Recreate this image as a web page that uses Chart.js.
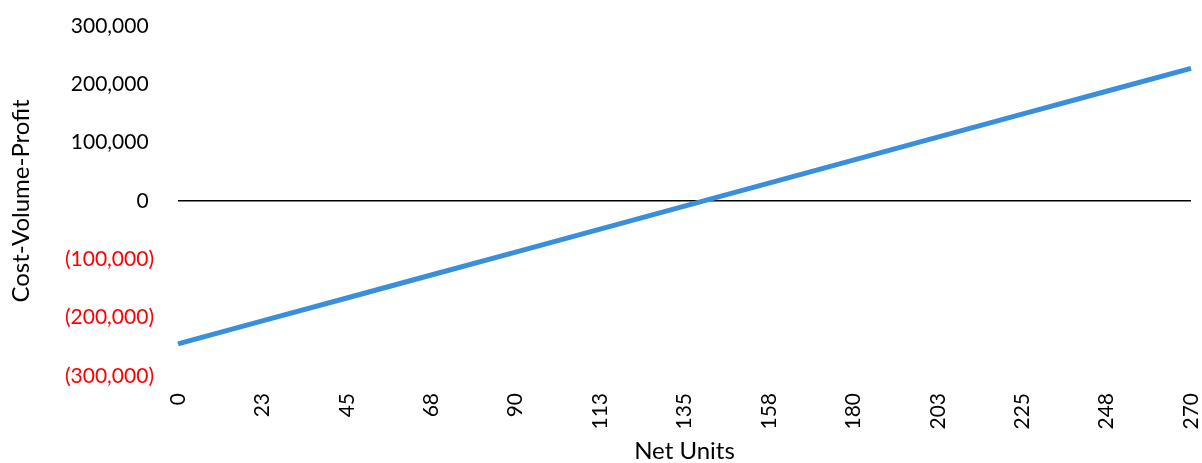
<!DOCTYPE html>
<html>
<head>
<meta charset="utf-8">
<title>Cost-Volume-Profit</title>
<script src="https://cdn.jsdelivr.net/npm/chart.js@4.4.1/dist/chart.umd.min.js"></script>
<style>
  html, body { margin: 0; padding: 0; background: #ffffff; }
  #wrap { width: 1202px; height: 463px; }
</style>
</head>
<body>
<div id="wrap"><canvas id="cvp" width="1202" height="463"></canvas></div>
<script>
// Units sold along the horizontal axis
const netUnits = ['0', '23', '45', '68', '90', '113', '135', '158', '180', '203', '225', '248', '270'];

// Profit (loss) at each volume
const profit = [-245000, -205600, -166300, -126900, -87500, -48100, -8800,
                30600, 70000, 109400, 148800, 188100, 227500];

// Vertical axis ticks
const profitTicks = [-300000, -200000, -100000, 0, 100000, 200000, 300000];

const FONT = 'Lato, "Open Sans", "Liberation Sans", sans-serif';

function fmtAccounting(v) {
  const s = Math.abs(v).toLocaleString('en-US');
  if (v < 0) return '(' + s + ')';
  return v === 0 ? '0 ' : s + ' ';
}

new Chart(document.getElementById('cvp'), {
  type: 'line',
  data: {
    labels: netUnits,
    datasets: [{
      label: 'Profit',
      data: profit,
      borderColor: '#3A8FDC',
      borderWidth: 5,
      pointRadius: 0,
      pointHoverRadius: 0,
      tension: 0,
      fill: false
    }]
  },
  options: {
    responsive: false,
    animation: false,
    layout: { padding: { top: 26, right: 11, bottom: 0, left: 0 } },
    plugins: { legend: { display: false }, tooltip: { enabled: false } },
    scales: {
      x: {
        type: 'category',
        offset: false,
        border: { display: false },
        grid: { display: false, drawTicks: false },
        ticks: {
          minRotation: 90,
          maxRotation: 90,
          autoSkip: false,
          padding: 17,
          color: '#000000',
          font: { family: FONT, size: 21 }
        },
        title: {
          display: true,
          text: 'Net Units',
          color: '#000000',
          padding: { top: 0, bottom: 0 },
          font: { family: FONT, size: 24, lineHeight: 1.0 }
        },
        afterFit(scale) {
          scale.height = 87;
          scale.paddingLeft = 0;
          scale.paddingRight = 0;
        }
      },
      y: {
        min: -300000,
        max: 300000,
        border: { display: false },
        afterBuildTicks(scale) { scale.ticks = profitTicks.map(v => ({ value: v })); },
        grid: {
          drawTicks: false,
          lineWidth: 1.6,
          color: ctx => (ctx.tick && ctx.tick.value === 0 ? '#000000' : 'rgba(0,0,0,0)')
        },
        ticks: {
          padding: 24,
          callback: v => fmtAccounting(v),
          color: ctx => (ctx.tick && ctx.tick.value < 0 ? '#FF0000' : '#000000'),
          font: { family: FONT, size: 21 }
        },
        title: {
          display: true,
          text: 'Cost-Volume-Profit',
          color: '#000000',
          padding: { top: 9, bottom: 0 },
          font: { family: FONT, size: 24, lineHeight: 1.0 }
        },
        afterFit(scale) {
          scale.width = 178;
          scale.paddingTop = 0;
          scale.paddingBottom = 0;
        }
      }
    }
  }
});
</script>
</body>
</html>
